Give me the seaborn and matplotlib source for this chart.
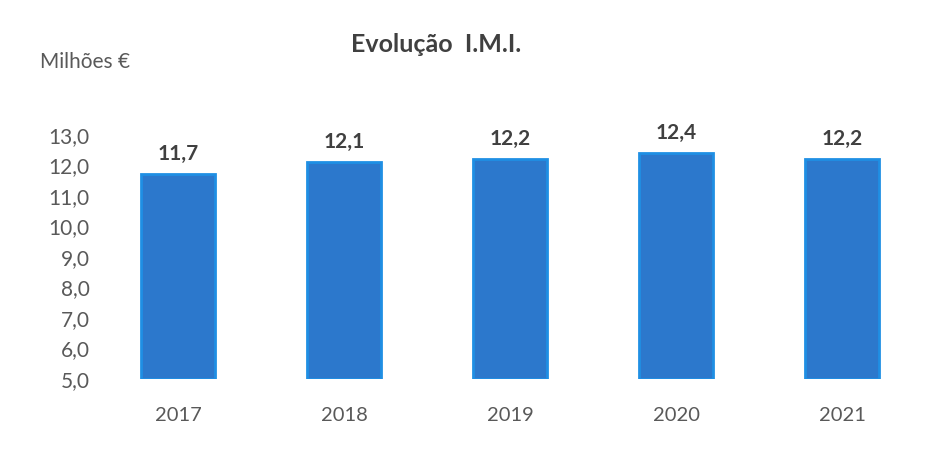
import matplotlib
matplotlib.use("Agg")
import matplotlib.pyplot as plt
import seaborn as sns
import pandas as pd

years = ["2017", "2018", "2019", "2020", "2021"]
imi_values = [11.7, 12.1, 12.2, 12.4, 12.2]
y_ticks = [5.0, 6.0, 7.0, 8.0, 9.0, 10.0, 11.0, 12.0, 13.0]
y_tick_labels = ["5,0", "6,0", "7,0", "8,0", "9,0", "10,0", "11,0", "12,0", "13,0"]
value_labels = ["11,7", "12,1", "12,2", "12,4", "12,2"]

sns.set_theme(style="white")
plt.rcParams["font.family"] = ["Lato", "DejaVu Sans"]

df = pd.DataFrame({"ano": years, "imi": imi_values})

fig = plt.figure(figsize=(9.41, 4.68), dpi=100)
ax = fig.add_axes([0.101, 0.19, 0.882, 0.522])

sns.barplot(data=df, x="ano", y="imi", ax=ax, width=0.45,
            color="#2c78cc", edgecolor="#1f8fe4", linewidth=2.0,
            saturation=1)

# bars start at the axis floor of 5
ax.set_ylim(5, 13)
for patch, val, lab in zip(ax.patches, imi_values, value_labels):
    patch.set_y(5)
    patch.set_height(val - 5)
    ax.text(patch.get_x() + patch.get_width() / 2, val + 0.33, lab,
            ha="center", va="bottom", fontsize=15, fontweight="bold",
            color="#404040", clip_on=False)

ax.set_yticks(y_ticks)
ax.set_yticklabels(y_tick_labels)
ax.tick_params(axis="y", labelsize=15, labelcolor="#595959", length=0, pad=4)
ax.tick_params(axis="x", labelsize=14.5, labelcolor="#595959", length=0, pad=20)
ax.set_xlabel("")
ax.set_ylabel("")
sns.despine(ax=ax, left=True, bottom=True)

fig.text(0.464, 0.905, "Evolução  I.M.I.", ha="center", va="center",
         fontsize=18, fontweight="bold", color="#404040")
fig.text(0.043, 0.868, "Milhões €", ha="left", va="center",
         fontsize=15, color="#595959")

fig.savefig("out.png", dpi=100)
